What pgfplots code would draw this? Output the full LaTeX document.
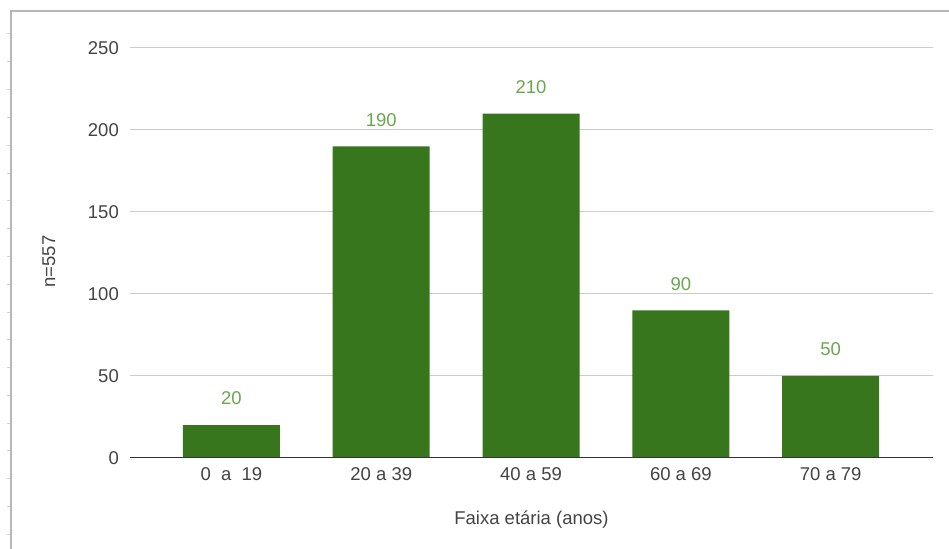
\documentclass[border=0pt]{standalone}
\usepackage{fontspec}
\setmainfont{Liberation Sans}
\usepackage{pgfplots}
\pgfplotsset{compat=1.18}

\definecolor{bargreen}{HTML}{38761D}
\definecolor{lblgreen}{HTML}{6AA84F}
\definecolor{gridgray}{HTML}{CCCCCC}
\definecolor{axisgray}{HTML}{333333}
\definecolor{txtgray}{HTML}{444444}
\definecolor{framegray}{HTML}{B7B7B7}
\newcommand{\chartfont}{\fontsize{18.5bp}{22bp}\selectfont}

\begin{document}
\begin{tikzpicture}
\useasboundingbox (0,0) rectangle (949bp,549bp);
\fill[white] (0,0) rectangle (949bp,549bp);
% sheet frame
\draw[framegray, line width=1.2bp] (11bp,0) -- (11bp,538bp) -- (949bp,538bp);
\foreach \y in {516,488,460,432,404,376,349,321,293,265,237,210,182,154,126,99,71,43,15}
  \draw[framegray!60, line width=0.8bp] (7bp,\y bp) -- (10bp,\y bp);

\begin{axis}[
  at={(130bp,91bp)}, anchor=south west,
  width=803bp, height=410bp, scale only axis,
  ybar, bar width=97bp,
  xmin=-0.677, xmax=4.683,
  ymin=0, ymax=250,
  ytick={0,50,...,250},
  xtick=data,
  xticklabels={{0\ \ a\ \ 19},{20 a 39},{40 a 59},{60 a 69},{70 a 79}},
  axis line style={draw=none},
  tick style={draw=none},
  major tick length=0pt,
  ymajorgrids, grid style={gridgray, line width=1bp},
  /pgf/number format/assume math mode=true,
  tick label style={font=\chartfont, txtgray},
  yticklabel style={inner sep=0pt, anchor=east, xshift=-11bp},
  xticklabel style={inner sep=0pt, anchor=north, yshift=-9bp},
  xlabel={Faixa etária (anos)},
  xlabel style={at={(axis description cs:0.5,0)}, anchor=base, yshift=-66bp, font=\chartfont, color=txtgray},
  ylabel={n=557},
  ylabel style={at={(axis description cs:-0.1009,0.479)}, anchor=center, font=\chartfont, color=txtgray},
  nodes near coords,
  every node near coord/.append style={lblgreen, font=\chartfont, inner sep=0pt, anchor=south, yshift=20bp},
]
\addplot[fill=bargreen, draw=none] coordinates {(0,20) (1,190) (2,210) (3,90) (4,50)};
\draw[axisgray, line width=1.3bp] (rel axis cs:0,0) -- (rel axis cs:1,0);
\end{axis}
\end{tikzpicture}
\end{document}
